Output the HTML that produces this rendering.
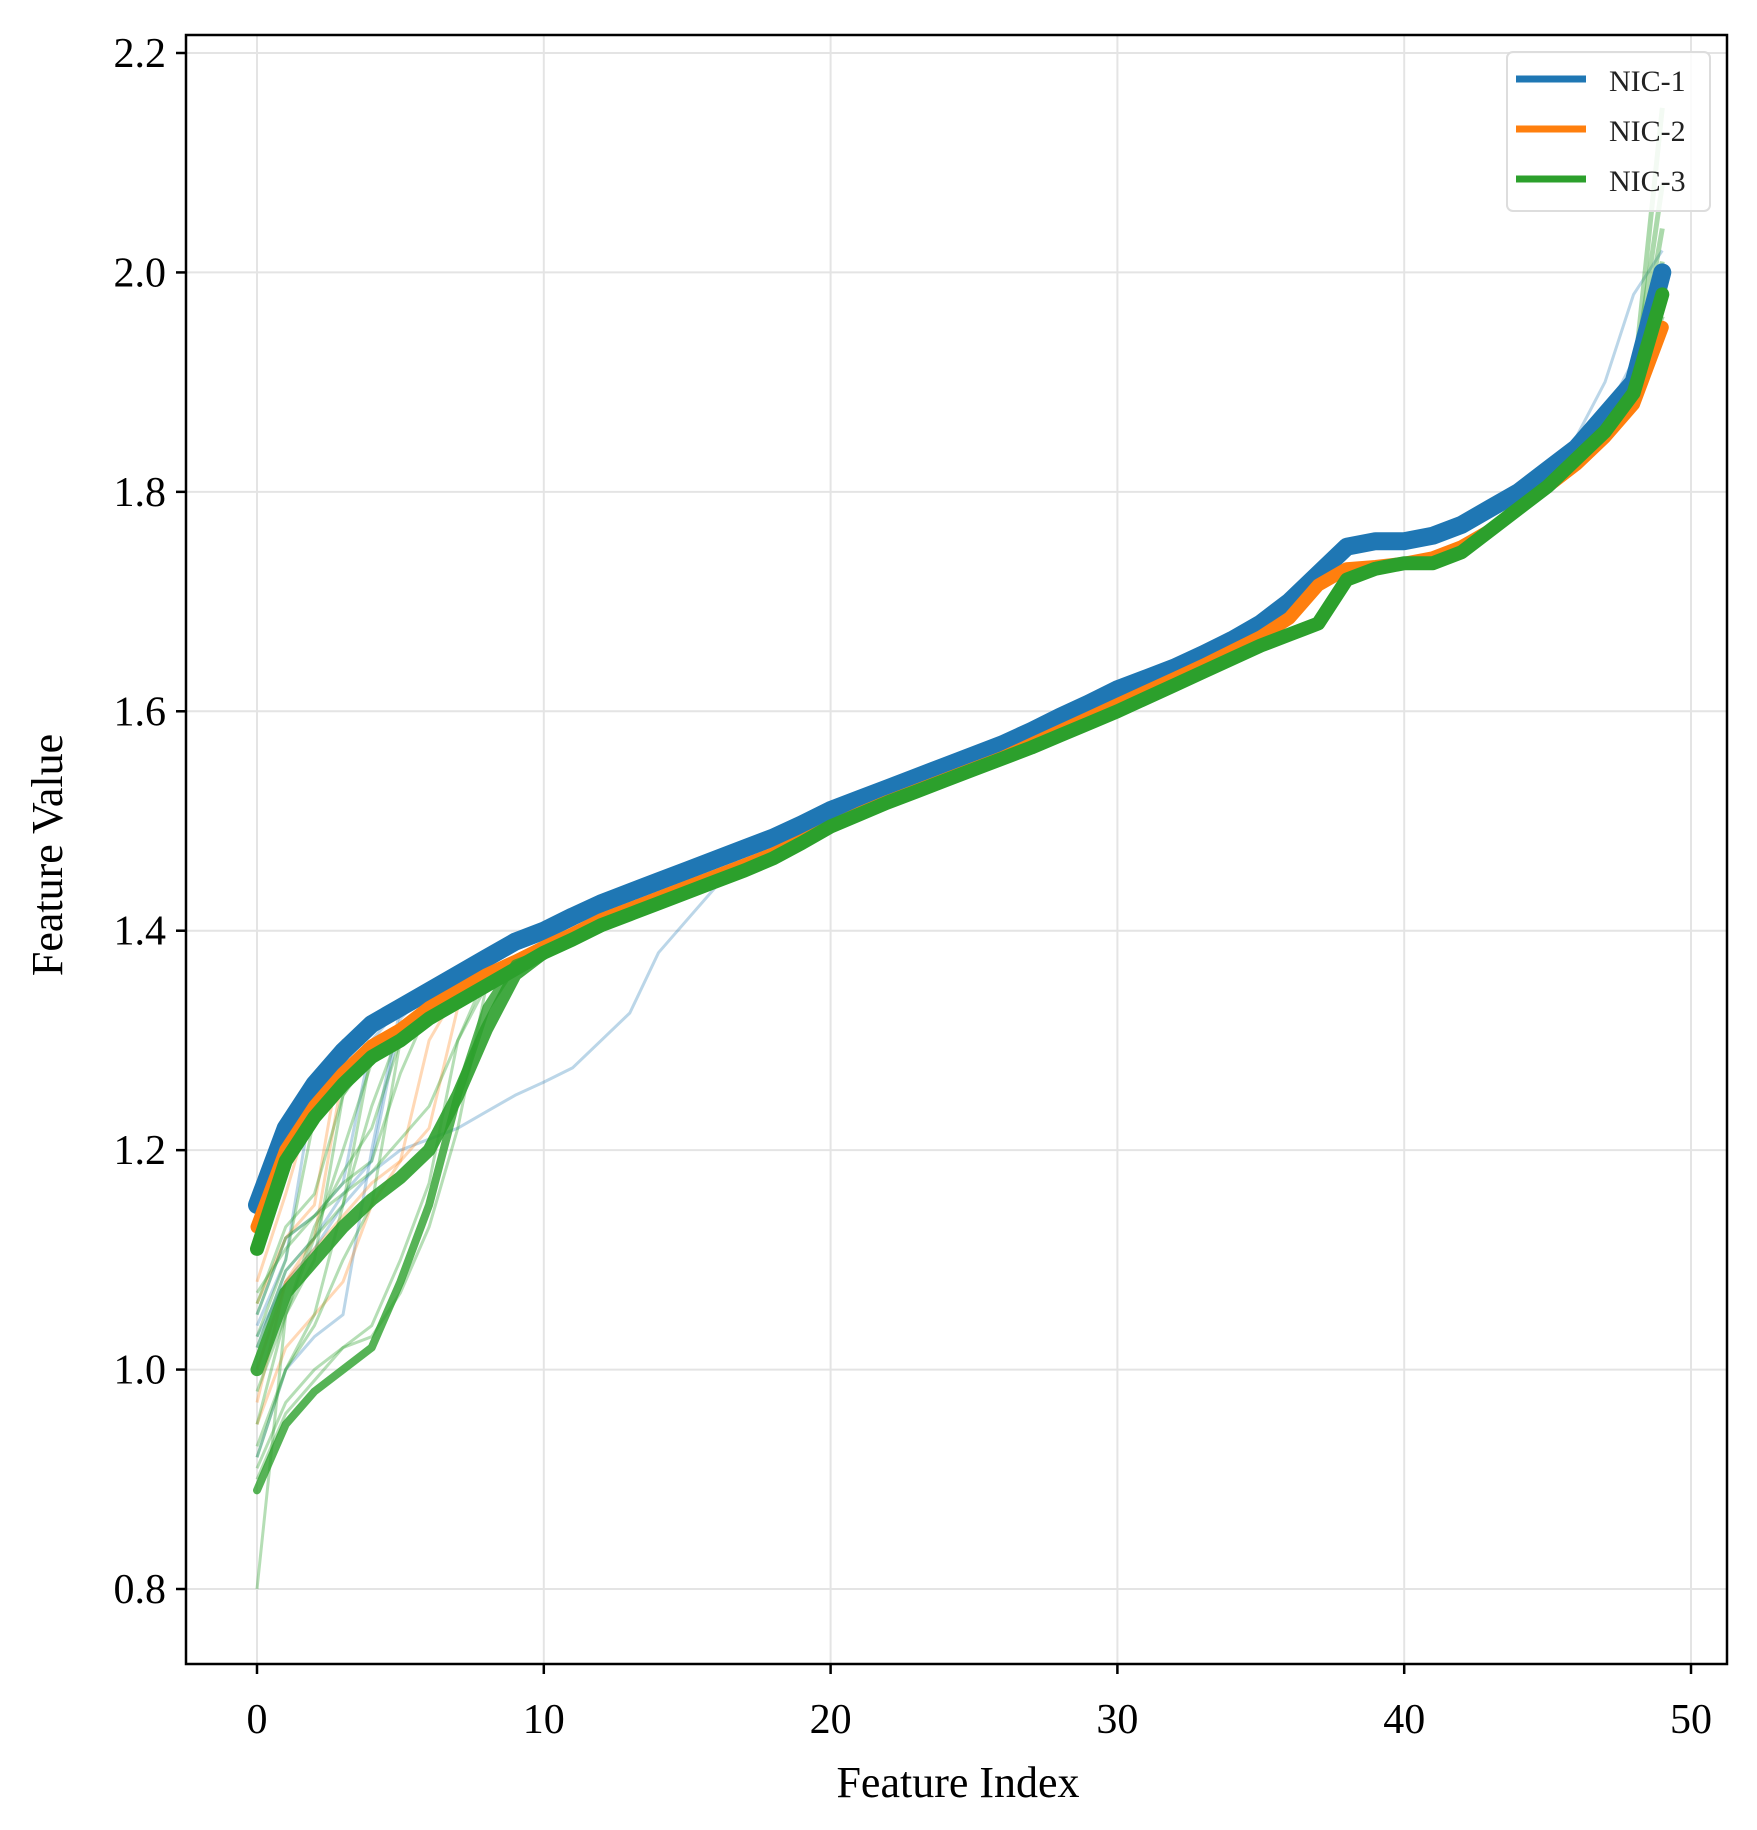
<!DOCTYPE html>
<html><head><meta charset="utf-8"><style>
html,body{margin:0;padding:0;background:#fff;}
svg{display:block;font-family:"Liberation Serif","DejaVu Serif",serif;}
</style></head><body>
<svg id="chart" width="1757" height="1830" viewBox="0 0 1757 1830">
<g id="grid"></g>
<g id="faint"></g>
<g id="main"></g>
<rect x="186" y="35" width="1541" height="1629" fill="none" stroke="#000" stroke-width="2.5"/>
<g id="ticks"></g>
<text x="958" y="1797" font-size="44" text-anchor="middle">Feature Index</text>
<text transform="translate(62,855) rotate(-90)" font-size="44" text-anchor="middle">Feature Value</text>
<g>
<rect x="1507" y="52" width="203" height="159" rx="6" fill="#fff" fill-opacity="0.85" stroke="#ddd" stroke-width="2"/>
<line x1="1516" y1="79" x2="1586" y2="79" stroke="#1f77b4" stroke-width="7"/>
<text x="1609" y="91" font-size="30" fill="#222">NIC-1</text>
<line x1="1516" y1="129" x2="1586" y2="129" stroke="#ff7f0e" stroke-width="7"/>
<text x="1609" y="141" font-size="30" fill="#222">NIC-2</text>
<line x1="1516" y1="179" x2="1586" y2="179" stroke="#2ca02c" stroke-width="7"/>
<text x="1609" y="191" font-size="30" fill="#222">NIC-3</text>
</g>
</svg>
<script>
const xTicks = [0,10,20,30,40,50];
const yTicks = [0.8,1.0,1.2,1.4,1.6,1.8,2.0,2.2];
const yTickLabels = ["0.8","1.0","1.2","1.4","1.6","1.8","2.0","2.2"];
const nic1 = [1.15,1.22,1.26,1.29,1.315,1.33,1.345,1.36,1.375,1.39,1.40,1.413,1.425,1.435,1.445,1.455,1.465,1.475,1.485,1.497,1.51,1.52,1.53,1.54,1.55,1.56,1.57,1.582,1.595,1.607,1.62,1.63,1.64,1.652,1.665,1.68,1.70,1.725,1.75,1.755,1.755,1.76,1.77,1.785,1.80,1.82,1.84,1.87,1.90,2.00];
const nic2 = [1.13,1.20,1.24,1.27,1.295,1.31,1.33,1.345,1.36,1.372,1.385,1.397,1.41,1.42,1.43,1.44,1.45,1.46,1.47,1.482,1.495,1.507,1.518,1.528,1.538,1.548,1.558,1.57,1.582,1.594,1.606,1.618,1.63,1.642,1.655,1.668,1.685,1.715,1.73,1.732,1.735,1.74,1.75,1.765,1.785,1.805,1.825,1.85,1.88,1.95];
const nic3 = [1.11,1.19,1.23,1.26,1.285,1.30,1.32,1.335,1.35,1.365,1.38,1.392,1.405,1.415,1.425,1.435,1.445,1.455,1.466,1.48,1.495,1.506,1.517,1.527,1.537,1.547,1.557,1.567,1.578,1.589,1.60,1.612,1.624,1.636,1.648,1.66,1.67,1.68,1.72,1.73,1.735,1.735,1.745,1.765,1.785,1.805,1.83,1.855,1.89,1.98];
const nic3Low = [1.0,1.07,1.10,1.13,1.155,1.175,1.20,1.25,1.31,1.36];
const nic3Lowest = [0.89,0.95,0.98,1.0,1.02,1.08,1.15,1.25,1.33,1.37];
const nic1Outlier = [1.03,1.08,1.11,1.15,1.18,1.20,1.21,1.22,1.235,1.25,1.262,1.275,1.30,1.325,1.38,1.41,1.44];
const nic1Faint = [[1.04,1.10,1.26,1.29],[1.05,1.12,1.14,1.17,1.30],[0.92,1.00,1.03,1.05,1.20,1.33],[1.02,1.09,1.12,1.16,1.19,1.32]];
const nic2Faint = [[0.97,1.08,1.12,1.27],[1.06,1.12,1.15,1.30],[0.95,1.02,1.05,1.08,1.15,1.19,1.30],[1.08,1.16,1.25,1.28],[1.0,1.08,1.11,1.14,1.17,1.19,1.22,1.33]];
const nic3Faint = [[0.80,1.05,1.10,1.25],[1.03,1.10,1.23,1.26],[0.93,1.00,1.05,1.15,1.29],[1.02,1.09,1.12,1.20,1.28],[0.92,1.0,1.04,1.10,1.15,1.30],[0.95,1.05,1.12,1.15,1.24,1.31],[1.05,1.12,1.14,1.17,1.19,1.27,1.33],[0.91,0.97,1.00,1.02,1.04,1.10,1.17,1.30],[0.90,0.96,0.99,1.02,1.03,1.07,1.13,1.22,1.35],[1.06,1.13,1.16,1.25,1.29],[0.98,1.05,1.13,1.18,1.22,1.30],[1.07,1.11,1.14,1.16,1.18,1.21,1.24,1.30,1.36]];
// faint tail variants: values at indices 46..49
const nic1TailFaint = [[1.85,1.90,1.98,2.02],[1.84,1.87,1.92,1.97]];
const nic3TailFaint = [[1.83,1.86,1.90,2.15],[1.83,1.86,1.90,2.08],[1.83,1.855,1.89,2.04],[1.83,1.855,1.89,1.96],[1.83,1.86,1.89,2.01]];

const X0=257, X1=1691, Y08=1589, Y22=53;
function xs(v){return X0+(X1-X0)*v/50;}
function ys(v){return Y08+(Y22-Y08)*(v-0.8)/1.4;}
const NS="http://www.w3.org/2000/svg";
function mk(tag,attrs,parent){const e=document.createElementNS(NS,tag);for(const k in attrs)e.setAttribute(k,attrs[k]);parent.appendChild(e);return e;}
function pts(arr){return arr.map((v,i)=>xs(i).toFixed(1)+","+ys(v).toFixed(1)).join(" ");}
function withTail(prefix,main){return prefix.concat(main.slice(prefix.length));}
function withEnd(main,end){return main.slice(0,main.length-end.length).concat(end);}

const grid=document.getElementById('grid'), ticks=document.getElementById('ticks');
xTicks.forEach(t=>{
  const g=mk('line',{x1:xs(t),x2:xs(t),y1:35,y2:1664,stroke:'#e4e4e4','stroke-width':2},grid);
  
  
  const tk=mk('line',{x1:xs(t),x2:xs(t),y1:1664,y2:1674,stroke:'#000','stroke-width':2.5},ticks);
  
  
  const tx=mk('text',{x:xs(t),y:1733,'font-size':42,'text-anchor':'middle'},ticks);
  tx.textContent=String(t);
  
  
});
yTicks.forEach((t,i)=>{
  const g=mk('line',{x1:186,x2:1727,y1:ys(t),y2:ys(t),stroke:'#e4e4e4','stroke-width':2},grid);
  
  
  const tk=mk('line',{x1:176,x2:186,y1:ys(t),y2:ys(t),stroke:'#000','stroke-width':2.5},ticks);
  
  
  const tx=mk('text',{x:166,y:ys(t)+14,'font-size':42,'text-anchor':'end'},ticks);
  tx.textContent=yTickLabels[i];
  
  
});

const faint=document.getElementById('faint'), main=document.getElementById('main');
function faintLine(arr,color,op,w,name){
  const p=mk('polyline',{points:pts(arr),fill:'none',stroke:color,'stroke-opacity':op,'stroke-width':w,'stroke-linejoin':'round'},faint);
  
  
}
faintLine(withTail(nic1Outlier,nic1),'#1f77b4',0.3,3,'nic1-outlier-line');
nic1Faint.forEach(a=>faintLine(withTail(a,nic1),'#1f77b4',0.3,3,'nic1-faint-line'));
nic2Faint.forEach(a=>faintLine(withTail(a,nic2),'#ff7f0e',0.3,3,'nic2-faint-line'));
nic3Faint.forEach(a=>faintLine(withTail(a,nic3),'#2ca02c',0.35,3,'nic3-faint-line'));
nic1TailFaint.forEach(a=>faintLine(withEnd(nic1,a),'#1f77b4',0.3,3,'nic1-tail-faint-line'));
nic3TailFaint.forEach(a=>faintLine(withEnd(nic3,a),'#2ca02c',0.4,5,'nic3-tail-faint-line'));

function mainLine(arr,color,w,name,op){
  const p=mk('polyline',{points:pts(arr),fill:'none',stroke:color,'stroke-opacity':op||1,'stroke-width':w,'stroke-linejoin':'round','stroke-linecap':'round'},main);
  
  
}
mainLine(nic1,'#1f77b4',18,'nic1-line');
mainLine(nic2,'#ff7f0e',13,'nic2-line');
mainLine(withTail(nic3Low,nic3),'#2ca02c',13,'nic3-low-line',0.9);
mainLine(withTail(nic3Lowest,nic3),'#2ca02c',8,'nic3-lowest-line',0.8);
mainLine(nic3,'#2ca02c',14,'nic3-line');
</script>
</body></html>
